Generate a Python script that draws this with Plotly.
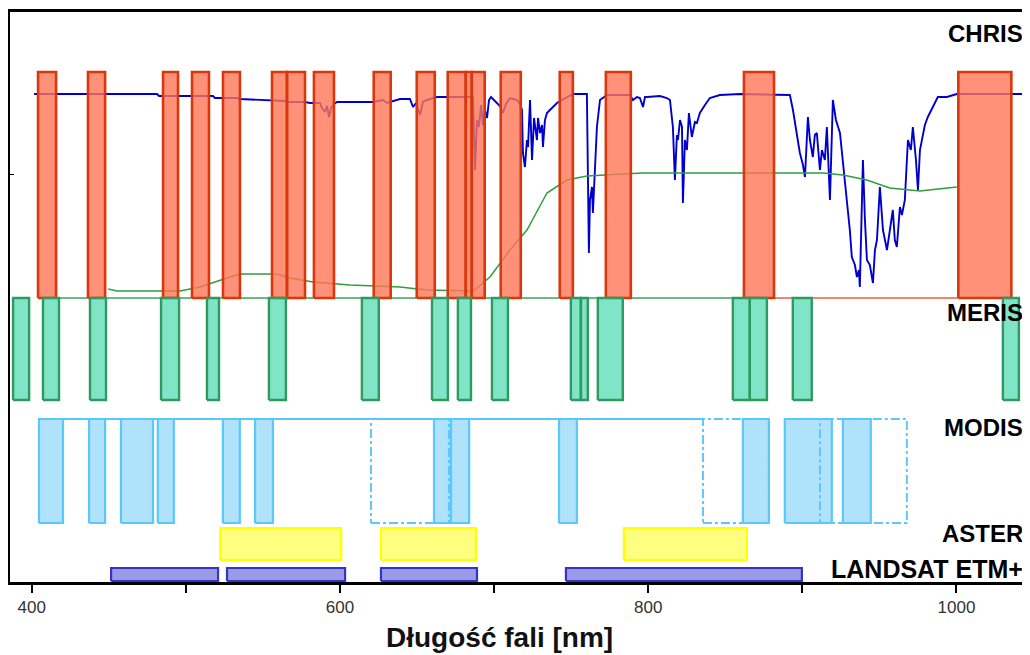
import plotly.graph_objects as go

# ---------------- data (wavelengths in nm) ----------------
# atmospheric transmittance curve (relative units)
atm_nm = [401.5, 481.3, 482.6, 517.6, 518.9, 533.2, 535.1, 548.1, 564.3, 565.6, 577.3, 580.5, 587.0,
          588.3, 590.3, 591.6, 592.9, 594.2, 596.1, 598.1, 621.4, 627.9, 630.5, 638.9, 645.4, 647.4,
          649.3, 651.9, 653.8, 656.4, 662.9, 686.3, 687.6, 688.9, 690.2, 691.5, 692.8, 694.1, 695.4,
          696.7, 698.0, 701.8, 703.8, 705.7, 707.7, 710.3, 714.8, 716.8, 718.1, 718.7, 720.0, 721.3,
          722.0, 723.3, 724.6, 725.9, 726.5, 727.8, 728.5, 729.8, 731.1, 731.7, 733.0, 734.3, 736.2,
          738.2, 740.8, 744.0, 747.3, 751.2, 760.2, 760.9, 761.5, 762.2, 763.5, 764.1, 765.4, 766.7,
          768.7, 771.3, 773.2, 788.1, 790.1, 792.7, 794.6, 796.6, 797.9, 799.2, 807.6, 812.1, 814.1,
          816.0, 817.3, 818.6, 819.3, 820.6, 821.9, 822.5, 823.8, 825.1, 826.4, 828.3, 830.3, 831.6,
          833.5, 836.8, 840.0, 846.5, 859.5, 891.9, 893.9, 896.5, 898.4, 900.4, 901.7, 903.6, 904.9,
          906.8, 908.1, 909.4, 911.4, 912.7, 914.6, 915.9, 917.9, 919.8, 921.8, 924.4, 926.3, 928.9,
          930.8, 932.1, 934.1, 935.4, 936.7, 937.3, 939.3, 940.6, 941.9, 943.8, 945.8, 947.1, 948.4,
          950.3, 952.3, 954.9, 956.8, 958.7, 960.0, 961.3, 963.3, 964.6, 966.5, 968.5, 970.4, 971.7,
          973.7, 975.0, 976.3, 978.2, 979.5, 981.4, 984.7, 987.9, 993.8, 1000.2, 1047.0]
atm_val = [488, 488, 486, 486, 484, 484, 483, 482, 481, 480, 480, 479, 479,
           474, 470, 476, 465, 474, 478, 480, 480, 482, 479, 483, 483, 475,
           479, 467, 480, 482, 485, 485, 412, 462, 455, 477, 457, 472, 464,
           482, 485, 479, 476, 469, 478, 484, 482, 478, 472, 429, 415, 442,
           435, 482, 422, 464, 457, 442, 464, 449, 457, 435, 462, 469, 472,
           475, 479, 482, 485, 488, 488, 369, 329, 382, 395, 369, 415, 455,
           482, 485, 487, 487, 482, 485, 484, 475, 485, 485, 486, 484, 482,
           455, 402, 447, 442, 462, 455, 379, 442, 432, 469, 445, 460, 459,
           469, 477, 484, 487, 488, 487, 472, 447, 429, 417, 405, 465, 442,
           425, 447, 449, 412, 432, 422, 455, 382, 482, 462, 449, 422, 382,
           352, 325, 317, 305, 312, 295, 422, 362, 322, 317, 299, 332, 342,
           395, 352, 332, 352, 372, 342, 335, 375, 367, 382, 442, 432, 455,
           422, 392, 432, 449, 457, 465, 475, 485, 485, 488, 488]

# vegetation reflectance curve (relative units)
veg_nm = [449.6, 455.4, 496.2, 509.2, 530.6, 535.1, 559.1, 567.6, 582.5, 595.5, 606.5, 638.9, 656.4,
          686.3, 688.9, 697.3, 710.3, 721.3, 734.3, 747.2, 760.2, 783.6, 796.5, 827.0, 913.3, 926.3,
          941.8, 956.7, 976.2, 1000.2]
veg_val = [293, 291, 291, 295, 306, 308, 308, 304, 300, 298, 297, 295, 292,
           291, 294, 305, 332, 352, 389, 402, 406, 408, 409, 409, 409, 407,
           402, 394, 391, 395]

# sensor bands: lower / upper wavelength limits [nm]
chris_lo = [404.1, 436.5, 485.2, 504.0, 524.1, 555.9, 565.6, 583.1, 621.9, 649.8, 669.9, 681.6,
            685.5, 704.3, 742.6, 772.5, 862.1, 1001.2]
chris_hi = [415.8, 447.6, 494.9, 515.0, 535.1, 565.6, 577.3, 596.1, 632.9, 661.5, 681.6, 685.5,
            693.9, 717.3, 751.1, 788.7, 881.6, 1035.6]

meris_lo = [387.9, 407.3, 437.8, 483.9, 513.7, 553.9, 614.2, 659.7, 676.5, 698.6, 749.8, 756.3,
            767.3, 854.9, 865.9, 893.8, 1030.1]
meris_hi = [398.3, 417.7, 448.2, 495.6, 521.5, 564.9, 625.2, 670.0, 685.0, 709.0, 756.3, 760.8,
            783.5, 865.9, 877.0, 906.1, 1040.5]

modis_lo = [404.7, 437.2, 457.9, 481.8, 524.0, 544.9, 661.0, 672.0, 742.1, 861.4, 888.6, 926.3]
modis_hi = [420.3, 447.6, 478.7, 492.2, 535.0, 556.5, 672.0, 683.8, 753.7, 878.3, 919.1, 944.4]
modis_land_lo = [620.1, 835.5, 911.4]   # dash-dot outlined bands
modis_land_hi = [670.7, 878.3, 967.8]

aster_lo = [522.3, 626.6, 784.2]
aster_hi = [600.8, 688.2, 864.0]

landsat_lo = [451.5, 526.7, 626.6, 746.6]
landsat_hi = [520.9, 603.3, 688.9, 899.7]

sensor_names = ["CHRIS", "MERIS", "MODIS", "ASTER", "LANDSAT ETM+"]
tick_vals = [400, 500, 600, 700, 800, 900, 1000]
tick_text = ["400", "", "600", "", "800", "", "1000"]
x_title = "Długość fali [nm]"

# ---------------- layout constants ----------------
ROWS = {  # (bottom, top) of each sensor row on the relative y scale
    "CHRIS": (284, 510),
    "MERIS": (182, 284),
    "MODIS": (59, 163),
    "ASTER": (22, 54),
    "LANDSAT ETM+": (1, 14),
}
LABEL_Y = {"CHRIS": 549, "MERIS": 270, "MODIS": 155, "ASTER": 49, "LANDSAT ETM+": 13}
LABEL_SIZE = {"CHRIS": 24, "MERIS": 24, "MODIS": 24, "ASTER": 24, "LANDSAT ETM+": 25}
FONT = "Liberation Sans, Arial, sans-serif"


def rects(lo, hi, y0, y1):
    xs, ys = [], []
    for a, b in zip(lo, hi):
        xs += [a, b, b, a, a, None]
        ys += [y0, y0, y1, y1, y0, None]
    return xs, ys


fig = go.Figure()

# base lines
fig.add_trace(go.Scatter(x=[417.1, 883.5], y=[ROWS["MERIS"][1]] * 2, mode="lines",
                         line=dict(color="#3DA35A", width=1.5), hoverinfo="skip"))
fig.add_trace(go.Scatter(x=[883.5, 1001.2], y=[ROWS["CHRIS"][0]] * 2, mode="lines",
                         line=dict(color="#F05A40", width=1.5), hoverinfo="skip"))
fig.add_trace(go.Scatter(x=[420.3, 835.5], y=[ROWS["MODIS"][1]] * 2, mode="lines",
                         line=dict(color="#5AC8FA", width=2), hoverinfo="skip"))

# curves
fig.add_trace(go.Scatter(x=atm_nm, y=atm_val, mode="lines",
                         line=dict(color="#0000CD", width=1.9), hoverinfo="skip"))
fig.add_trace(go.Scatter(x=veg_nm, y=veg_val, mode="lines",
                         line=dict(color="#2E9E3E", width=1.5), hoverinfo="skip"))

# sensor bands
styles = [
    ("CHRIS", chris_lo, chris_hi, "rgba(255,118,88,0.80)", "#D8380C", 2.6),
    ("MERIS", meris_lo, meris_hi, "rgba(110,224,190,0.88)", "#2E9A62", 2.4),
    ("MODIS", modis_lo, modis_hi, "rgba(172,224,252,0.95)", "#5AC8FA", 2.2),
    ("ASTER", aster_lo, aster_hi, "rgba(255,255,120,0.95)", "#FFFF00", 2.2),
    ("LANDSAT ETM+", landsat_lo, landsat_hi, "rgba(150,150,228,0.95)", "#3434C8", 2.2),
]
for name, lo, hi, fill, edge, w in styles:
    y0, y1 = ROWS[name]
    xs, ys = rects(lo, hi, y0, y1)
    fig.add_trace(go.Scatter(x=xs, y=ys, mode="lines", fill="toself", fillcolor=fill,
                             line=dict(color=edge, width=w), hoverinfo="skip"))

y0, y1 = ROWS["MODIS"]
xs, ys = rects(modis_land_lo, modis_land_hi, y0, y1)
fig.add_trace(go.Scatter(x=xs, y=ys, mode="lines",
                         line=dict(color="#5AC8FA", width=2, dash="dashdot"), hoverinfo="skip"))

for name in sensor_names:
    fig.add_annotation(x=1044.5, y=LABEL_Y[name], xref="x", yref="y", text=name,
                       showarrow=False, xanchor="right", yanchor="middle",
                       font=dict(family=FONT, size=LABEL_SIZE[name], color="black", weight="bold"))

# axis title, centred like in the reference (slightly left of the plot centre)
fig.add_annotation(x=703.8, y=-0.097, xref="x", yref="paper", text=x_title,
                   showarrow=False, xanchor="center", yanchor="middle",
                   font=dict(family=FONT, size=28, color="#111111", weight="bold"))

# the page body has an 8 px margin, so the figure is sized/offset to compensate
fig.update_layout(
    width=1022, height=647,
    margin=dict(l=2, r=0, t=4, b=73),
    paper_bgcolor="white", plot_bgcolor="white",
    showlegend=False,
    xaxis=dict(range=[385.9, 1047.7], tickvals=tick_vals, ticktext=tick_text,
               ticks="outside", ticklen=8, tickwidth=1.5, tickcolor="black",
               showline=True, linecolor="black", linewidth=3, mirror=True,
               showgrid=False, zeroline=False,
               tickfont=dict(family=FONT, size=17, color="#333333")),
    yaxis=dict(range=[0, 570], tickvals=[408], ticktext=[""], ticks="inside", ticklen=4,
               tickcolor="black", showline=True, linecolor="black", linewidth=3,
               showgrid=False, zeroline=False),
)

fig.write_html("out.html", config={"displayModeBar": False})
